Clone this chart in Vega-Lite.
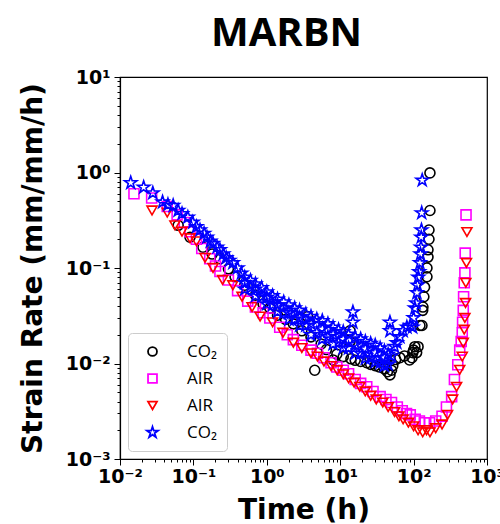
{
  "$schema": "https://vega.github.io/schema/vega-lite/v6.json",
  "width": 367,
  "height": 382,
  "autosize": {"type": "none"},
  "padding": {"left": 120, "top": 77, "right": 13, "bottom": 65},
  "background": "white",
  "title": {"text": "MARBN", "font": "Open Sans", "fontSize": 40, "fontWeight": "bold", "color": "black", "anchor": "middle", "offset": 14, "dx": -17},
  "data": {"values": [
    {"s":"a","t":0.062,"r":0.28},{"s":"a","t":0.09,"r":0.21},{"s":"a","t":0.135,"r":0.165},{"s":"a","t":0.18,"r":0.14},{"s":"a","t":0.23,"r":0.125},{"s":"a","t":0.3,"r":0.098},{"s":"a","t":0.37,"r":0.081},{"s":"a","t":0.5,"r":0.066},{"s":"a","t":0.7,"r":0.052},{"s":"a","t":0.89,"r":0.042},{"s":"a","t":1.1,"r":0.038},{"s":"a","t":1.4,"r":0.032},{"s":"a","t":1.8,"r":0.029},{"s":"a","t":2.3,"r":0.026},{"s":"a","t":3.0,"r":0.022},{"s":"a","t":3.6,"r":0.031},{"s":"a","t":4.0,"r":0.019},{"s":"a","t":4.5,"r":0.0085},{"s":"a","t":5.5,"r":0.016},{"s":"a","t":6.5,"r":0.014},{"s":"a","t":8,"r":0.0109},{"s":"a","t":9,"r":0.0125},{"s":"a","t":11,"r":0.0118},{"s":"a","t":13.6,"r":0.022},{"s":"a","t":13.6,"r":0.017},{"s":"a","t":14,"r":0.0112},{"s":"a","t":16,"r":0.0108},{"s":"a","t":19,"r":0.0105},{"s":"a","t":23,"r":0.0102},{"s":"a","t":26,"r":0.0098},{"s":"a","t":30,"r":0.0095},{"s":"a","t":34,"r":0.0092},{"s":"a","t":40,"r":0.0088},{"s":"a","t":44,"r":0.0082},{"s":"a","t":47.6,"r":0.0076},{"s":"a","t":50,"r":0.0085},{"s":"a","t":52,"r":0.0095},{"s":"a","t":57,"r":0.011},{"s":"a","t":65,"r":0.0115},{"s":"a","t":75,"r":0.012},{"s":"a","t":88,"r":0.0109},{"s":"a","t":95,"r":0.0115},{"s":"a","t":97.5,"r":0.013},{"s":"a","t":100,"r":0.0138},{"s":"a","t":104,"r":0.015},{"s":"a","t":110,"r":0.013},{"s":"a","t":115,"r":0.015},{"s":"a","t":122,"r":0.025},{"s":"a","t":130,"r":0.025},{"s":"a","t":133,"r":0.036},{"s":"a","t":134,"r":0.039},{"s":"a","t":138,"r":0.05},{"s":"a","t":141,"r":0.063},{"s":"a","t":152,"r":0.081},{"s":"a","t":152,"r":0.1},{"s":"a","t":157,"r":0.13},{"s":"a","t":157,"r":0.155},{"s":"a","t":162,"r":0.2},{"s":"a","t":162,"r":0.25},{"s":"a","t":167,"r":0.4},{"s":"a","t":167,"r":0.99},
    {"s":"b","t":0.0155,"r":0.6},{"s":"b","t":0.027,"r":0.54},{"s":"b","t":0.044,"r":0.44},{"s":"b","t":0.06,"r":0.36},{"s":"b","t":0.075,"r":0.3},{"s":"b","t":0.09,"r":0.24},{"s":"b","t":0.11,"r":0.2},{"s":"b","t":0.13,"r":0.16},{"s":"b","t":0.167,"r":0.125},{"s":"b","t":0.2,"r":0.105},{"s":"b","t":0.23,"r":0.092},{"s":"b","t":0.3,"r":0.075},{"s":"b","t":0.4,"r":0.058},{"s":"b","t":0.55,"r":0.045},{"s":"b","t":0.7,"r":0.039},{"s":"b","t":0.89,"r":0.034},{"s":"b","t":1.1,"r":0.03},{"s":"b","t":1.5,"r":0.024},{"s":"b","t":1.9,"r":0.02},{"s":"b","t":2.3,"r":0.0178},{"s":"b","t":3,"r":0.0155},{"s":"b","t":4,"r":0.0138},{"s":"b","t":4.9,"r":0.0128},{"s":"b","t":6,"r":0.0115},{"s":"b","t":7.5,"r":0.0102},{"s":"b","t":9,"r":0.0092},{"s":"b","t":11,"r":0.0085},{"s":"b","t":13,"r":0.0078},{"s":"b","t":16,"r":0.0068},{"s":"b","t":19,"r":0.0062},{"s":"b","t":23,"r":0.0057},{"s":"b","t":28,"r":0.0051},{"s":"b","t":35,"r":0.0045},{"s":"b","t":42,"r":0.0042},{"s":"b","t":50,"r":0.0039},{"s":"b","t":60,"r":0.0035},{"s":"b","t":70,"r":0.0032},{"s":"b","t":80,"r":0.003},{"s":"b","t":90,"r":0.0029},{"s":"b","t":105,"r":0.0026},{"s":"b","t":120,"r":0.0025},{"s":"b","t":140,"r":0.0024},{"s":"b","t":165,"r":0.0024},{"s":"b","t":200,"r":0.0025},{"s":"b","t":244,"r":0.0028},{"s":"b","t":280,"r":0.0035},{"s":"b","t":330,"r":0.0045},{"s":"b","t":360,"r":0.0068},{"s":"b","t":400,"r":0.0097},{"s":"b","t":425,"r":0.0138},{"s":"b","t":445,"r":0.017},{"s":"b","t":460,"r":0.021},{"s":"b","t":465,"r":0.027},{"s":"b","t":475,"r":0.036},{"s":"b","t":480,"r":0.05},{"s":"b","t":490,"r":0.07},{"s":"b","t":500,"r":0.089},{"s":"b","t":505,"r":0.143},{"s":"b","t":518,"r":0.36},
    {"s":"c","t":0.0273,"r":0.4},{"s":"c","t":0.044,"r":0.38},{"s":"c","t":0.056,"r":0.28},{"s":"c","t":0.07,"r":0.24},{"s":"c","t":0.09,"r":0.205},{"s":"c","t":0.11,"r":0.19},{"s":"c","t":0.144,"r":0.128},{"s":"c","t":0.185,"r":0.1},{"s":"c","t":0.25,"r":0.075},{"s":"c","t":0.345,"r":0.066},{"s":"c","t":0.46,"r":0.05},{"s":"c","t":0.63,"r":0.039},{"s":"c","t":0.81,"r":0.031},{"s":"c","t":1.2,"r":0.027},{"s":"c","t":1.66,"r":0.021},{"s":"c","t":2.3,"r":0.0165},{"s":"c","t":3,"r":0.0145},{"s":"c","t":4,"r":0.0128},{"s":"c","t":4.9,"r":0.0118},{"s":"c","t":6,"r":0.0105},{"s":"c","t":7.5,"r":0.0094},{"s":"c","t":9.1,"r":0.0085},{"s":"c","t":11,"r":0.0077},{"s":"c","t":13,"r":0.007},{"s":"c","t":15.5,"r":0.0063},{"s":"c","t":18.5,"r":0.0057},{"s":"c","t":22,"r":0.0051},{"s":"c","t":26,"r":0.0046},{"s":"c","t":31,"r":0.0042},{"s":"c","t":38,"r":0.0039},{"s":"c","t":45,"r":0.0035},{"s":"c","t":55,"r":0.0031},{"s":"c","t":63,"r":0.0028},{"s":"c","t":72,"r":0.0026},{"s":"c","t":85,"r":0.0024},{"s":"c","t":100,"r":0.0022},{"s":"c","t":115,"r":0.002},{"s":"c","t":133,"r":0.0019},{"s":"c","t":150,"r":0.002},{"s":"c","t":167,"r":0.0019},{"s":"c","t":200,"r":0.0021},{"s":"c","t":244,"r":0.0023},{"s":"c","t":290,"r":0.0029},{"s":"c","t":340,"r":0.0042},{"s":"c","t":385,"r":0.0057},{"s":"c","t":425,"r":0.0086},{"s":"c","t":460,"r":0.0118},{"s":"c","t":475,"r":0.0165},{"s":"c","t":490,"r":0.0226},{"s":"c","t":500,"r":0.03},{"s":"c","t":510,"r":0.043},{"s":"c","t":515,"r":0.07},{"s":"c","t":525,"r":0.113},{"s":"c","t":533,"r":0.238},
    {"s":"d","t":0.014,"r":0.78},{"s":"d","t":0.021,"r":0.7},{"s":"d","t":0.028,"r":0.61},{"s":"d","t":0.038,"r":0.49},{"s":"d","t":0.045,"r":0.46},{"s":"d","t":0.053,"r":0.45},{"s":"d","t":0.062,"r":0.4},{"s":"d","t":0.07,"r":0.37},{"s":"d","t":0.084,"r":0.34},{"s":"d","t":0.098,"r":0.3},{"s":"d","t":0.11,"r":0.27},{"s":"d","t":0.123,"r":0.25},{"s":"d","t":0.14,"r":0.23},{"s":"d","t":0.153,"r":0.21},{"s":"d","t":0.17,"r":0.19},{"s":"d","t":0.185,"r":0.18},{"s":"d","t":0.21,"r":0.165},{"s":"d","t":0.23,"r":0.155},{"s":"d","t":0.255,"r":0.14},{"s":"d","t":0.28,"r":0.128},{"s":"d","t":0.31,"r":0.12},{"s":"d","t":0.345,"r":0.113},{"s":"d","t":0.4,"r":0.1},{"s":"d","t":0.45,"r":0.088},
    {"s":"d","t":0.5,"r":0.08},{"s":"d","t":0.5,"r":0.07},{"s":"d","t":0.5,"r":0.06},{"s":"d","t":0.6,"r":0.074},{"s":"d","t":0.6,"r":0.062},{"s":"d","t":0.7,"r":0.068},{"s":"d","t":0.7,"r":0.06},{"s":"d","t":0.7,"r":0.051},{"s":"d","t":0.85,"r":0.062},{"s":"d","t":0.85,"r":0.05},{"s":"d","t":1.0,"r":0.056},{"s":"d","t":1.0,"r":0.049},{"s":"d","t":1.0,"r":0.042},{"s":"d","t":1.2,"r":0.051},{"s":"d","t":1.2,"r":0.041},{"s":"d","t":1.4,"r":0.047},{"s":"d","t":1.4,"r":0.041},{"s":"d","t":1.4,"r":0.035},{"s":"d","t":1.7,"r":0.044},{"s":"d","t":1.7,"r":0.034},{"s":"d","t":2.0,"r":0.041},{"s":"d","t":2.0,"r":0.034},{"s":"d","t":2.0,"r":0.029},{"s":"d","t":2.4,"r":0.038},{"s":"d","t":2.4,"r":0.029},{"s":"d","t":2.8,"r":0.036},{"s":"d","t":2.8,"r":0.03},{"s":"d","t":2.8,"r":0.025},{"s":"d","t":3.4,"r":0.033},{"s":"d","t":3.4,"r":0.025},{"s":"d","t":4.0,"r":0.031},{"s":"d","t":4.0,"r":0.026},{"s":"d","t":4.0,"r":0.02},{"s":"d","t":4.8,"r":0.029},{"s":"d","t":4.8,"r":0.021},{"s":"d","t":5.7,"r":0.028},{"s":"d","t":5.7,"r":0.023},{"s":"d","t":5.7,"r":0.018},{"s":"d","t":6.8,"r":0.026},{"s":"d","t":6.8,"r":0.019},{"s":"d","t":8,"r":0.024},{"s":"d","t":8,"r":0.02},{"s":"d","t":8,"r":0.016},{"s":"d","t":9.5,"r":0.0225},{"s":"d","t":9.5,"r":0.0165},{"s":"d","t":11,"r":0.0215},{"s":"d","t":11,"r":0.018},{"s":"d","t":11,"r":0.0146},{"s":"d","t":13,"r":0.0202},{"s":"d","t":13,"r":0.0145},{"s":"d","t":14.9,"r":0.0346},{"s":"d","t":14.9,"r":0.027},{"s":"d","t":16,"r":0.019},{"s":"d","t":16,"r":0.0157},{"s":"d","t":16,"r":0.0128},{"s":"d","t":19,"r":0.018},{"s":"d","t":19,"r":0.0128},{"s":"d","t":22,"r":0.017},{"s":"d","t":22,"r":0.0142},{"s":"d","t":22,"r":0.0113},{"s":"d","t":26,"r":0.0162},{"s":"d","t":26,"r":0.0115},{"s":"d","t":30,"r":0.0155},{"s":"d","t":30,"r":0.013},{"s":"d","t":30,"r":0.0104},{"s":"d","t":35,"r":0.0145},{"s":"d","t":35,"r":0.0102},{"s":"d","t":40,"r":0.0135},{"s":"d","t":40,"r":0.0115},{"s":"d","t":40,"r":0.0095},{"s":"d","t":45,"r":0.0125},{"s":"d","t":45,"r":0.0098},{"s":"d","t":47.6,"r":0.027},{"s":"d","t":47.6,"r":0.022},{"s":"d","t":50,"r":0.012},{"s":"d","t":55,"r":0.015},{"s":"d","t":59,"r":0.0165},{"s":"d","t":65,"r":0.019},{"s":"d","t":72,"r":0.022},{"s":"d","t":81,"r":0.024},{"s":"d","t":90,"r":0.025},{"s":"d","t":97,"r":0.024},{"s":"d","t":100,"r":0.03},{"s":"d","t":104,"r":0.038},{"s":"d","t":108,"r":0.043},{"s":"d","t":111,"r":0.055},{"s":"d","t":113,"r":0.066},{"s":"d","t":116,"r":0.08},{"s":"d","t":119,"r":0.091},{"s":"d","t":122,"r":0.113},{"s":"d","t":124,"r":0.14},{"s":"d","t":126,"r":0.165},{"s":"d","t":127,"r":0.21},{"s":"d","t":128,"r":0.25},{"s":"d","t":129,"r":0.377},{"s":"d","t":131,"r":0.83}
  ]},
  "mark": {"type": "point", "filled": false, "strokeWidth": 1.6, "opacity": 1},
  "encoding": {
    "x": {"field": "t", "type": "quantitative",
      "scale": {"type": "log", "domain": [0.01, 1000], "nice": false},
      "axis": {"title": "Time (h)", "titlePadding": 10,
        "values": [0.01,0.02,0.03,0.04,0.05,0.06,0.07,0.08,0.09,0.1,0.2,0.3,0.4,0.5,0.6,0.7,0.8,0.9,1,2,3,4,5,6,7,8,9,10,20,30,40,50,60,70,80,90,100,200,300,400,500,600,700,800,900,1000],
        "labelExpr": "abs(log(datum.value)/LN10 - round(log(datum.value)/LN10)) > 0.001 ? '' : '10' + (datum.value < 0.9 ? '⁻' : '') + ['⁰','¹','²','³'][abs(round(log(datum.value)/LN10))]",
        "tickSize": {"condition": {"test": "abs(log(datum.value)/LN10 - round(log(datum.value)/LN10)) < 0.001", "value": 6}, "value": 3},
        "labelPadding": 2}},
    "y": {"field": "r", "type": "quantitative",
      "scale": {"type": "log", "domain": [0.001, 10], "nice": false},
      "axis": {"title": "Strain Rate (mm/mm/h)", "titlePadding": 18,
        "values": [0.001,0.002,0.003,0.004,0.005,0.006,0.007,0.008,0.009,0.01,0.02,0.03,0.04,0.05,0.06,0.07,0.08,0.09,0.1,0.2,0.3,0.4,0.5,0.6,0.7,0.8,0.9,1,2,3,4,5,6,7,8,9,10],
        "labelExpr": "abs(log(datum.value)/LN10 - round(log(datum.value)/LN10)) > 0.001 ? '' : '10' + (datum.value < 0.9 ? '⁻' : '') + ['⁰','¹','²','³'][abs(round(log(datum.value)/LN10))]",
        "tickSize": {"condition": {"test": "abs(log(datum.value)/LN10 - round(log(datum.value)/LN10)) < 0.001", "value": 6}, "value": 3},
        "labelPadding": 4}},
    "color": {"field": "s", "type": "nominal",
      "scale": {"domain": ["a","b","c","d"], "range": ["black","#ff00ff","#ff0000","#0000ff"]},
      "legend": {"title": null, "orient": "bottom-left", "offset": 8,
        "labelExpr": "datum.label == 'a' || datum.label == 'd' ? 'CO₂' : 'AIR'",
        "encode": {"symbols": {"update": {"fill": {"value": "transparent"}, "fillOpacity": {"value": 0}}}}}},
    "shape": {"field": "s", "type": "nominal",
      "scale": {"domain": ["a","b","c","d"], "range": ["circle","square","triangle-down","M0,-1.3L0.292,-0.402L1.236,-0.402L0.472,0.153L0.764,1.052L0,0.497L-0.764,1.052L-0.472,0.153L-1.236,-0.402L-0.292,-0.402Z"]},
      "legend": {"title": null, "orient": "bottom-left", "offset": 8,
        "labelExpr": "datum.label == 'a' || datum.label == 'd' ? 'CO₂' : 'AIR'",
        "encode": {"symbols": {"update": {"fill": {"value": "transparent"}, "fillOpacity": {"value": 0}}}}}},
    "size": {"value": 100}
  },
  "config": {
    "view": {"stroke": "black", "strokeWidth": 1.2},
    "axis": {"grid": false, "domainColor": "black", "domainWidth": 1.2, "tickColor": "black", "tickWidth": 1,
      "labelFont": "DejaVu Sans", "labelFontWeight": "bold", "labelFontSize": 19, "labelColor": "black",
      "labelOverlap": false, "labelFlush": false, "labelBound": false,
      "titleFont": "DejaVu Sans", "titleFontWeight": "bold", "titleFontSize": 28, "titleColor": "black"},
    "legend": {"strokeColor": "#cccccc", "fillColor": "white", "cornerRadius": 4, "padding": 10,
      "labelFont": "Open Sans", "labelFontSize": 17, "labelColor": "black", "labelOffset": 26, "symbolOffset": 6,
      "symbolSize": 80, "symbolStrokeWidth": 1.8, "rowPadding": 9, "symbolType": "circle"}
  }
}
